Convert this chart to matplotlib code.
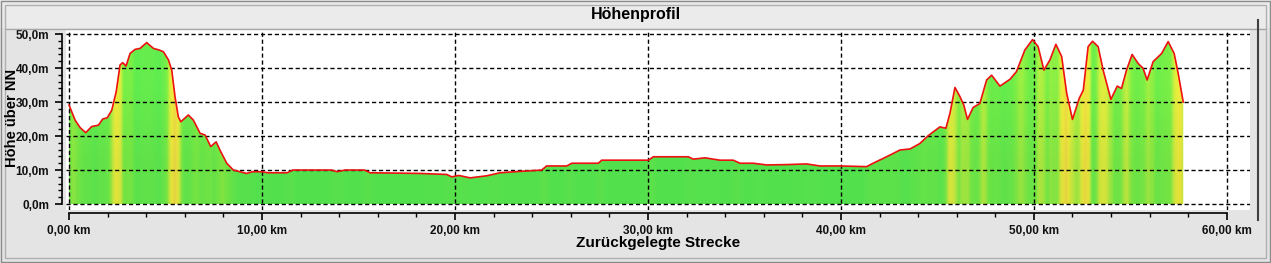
import matplotlib
matplotlib.use("Agg")
import matplotlib.pyplot as plt
import numpy as np
from matplotlib.patches import Rectangle
from matplotlib.colors import LinearSegmentedColormap
from matplotlib.lines import Line2D

plt.rcParams["font.family"] = ["Liberation Sans", "DejaVu Sans"]

# distance in km, height in m
dist_km = [0.0, 0.31, 0.57, 0.86, 1.17, 1.52, 1.74, 1.98, 2.21, 2.44, 2.64, 2.78, 2.95,
           3.16, 3.42, 3.68, 4.02, 4.37, 4.68, 4.89, 5.15, 5.32, 5.49, 5.66, 5.79, 6.18,
           6.44, 6.79, 7.05, 7.34, 7.62, 7.86, 8.17, 8.51, 8.86, 9.2, 9.5, 10.0, 10.3,
           11.3, 11.6, 13.6, 13.9, 14.3, 15.3, 15.6, 18.2, 19.57, 19.83, 20.2, 20.78,
           21.64, 22.33, 23.37, 24.49, 24.75, 25.79, 26.05, 27.43, 27.6, 30.02, 30.28,
           32.09, 32.35, 32.95, 33.73, 34.42, 34.77, 35.46, 36.15, 37.19, 38.22, 38.91,
           39.95, 41.33, 41.67, 42.54, 43.06, 43.58, 44.09, 44.52, 45.13, 45.44, 45.65,
           45.91, 46.17, 46.37, 46.56, 46.85, 47.2, 47.55, 47.81, 48.24, 48.76, 49.1,
           49.53, 49.93, 50.22, 50.52, 50.83, 51.14, 51.44, 51.7, 52.0, 52.35, 52.56,
           52.81, 53.04, 53.33, 53.59, 53.99, 54.32, 54.54, 54.8, 55.09, 55.4, 55.66,
           55.87, 56.18, 56.62, 56.96, 57.27, 57.48, 57.74]
height_m = [29.1, 24.7, 22.5, 21.0, 22.8, 23.2, 25.0, 25.4, 27.6, 33.0, 40.9, 41.6, 40.6,
            44.3, 45.5, 45.8, 47.5, 45.8, 45.3, 44.8, 42.4, 39.4, 31.6, 25.7, 24.2, 26.2,
            24.7, 20.8, 20.3, 16.9, 18.3, 15.4, 12.0, 10.0, 9.5, 9.0, 9.5, 9.5, 9.2,
            9.2, 10.0, 10.0, 9.5, 10.0, 10.0, 9.2, 9.0, 8.7, 8.0, 8.4, 7.7,
            8.3, 9.2, 9.6, 10.0, 11.2, 11.2, 12.0, 12.0, 12.9, 12.9, 13.9,
            13.9, 13.2, 13.6, 12.9, 12.9, 12.0, 12.0, 11.5, 11.6, 11.8, 11.2,
            11.2, 11.0, 12.0, 14.4, 15.9, 16.2, 17.8, 20.1, 22.7, 22.3, 26.7,
            34.3, 31.6, 29.1, 24.9, 28.4, 29.6, 36.5, 37.9, 34.7, 36.7, 39.0,
            45.3, 48.4, 46.3, 39.4, 42.4, 47.0, 43.4, 32.6, 24.9, 31.1, 33.5,
            46.3, 47.9, 46.3, 39.4, 30.8, 34.7, 34.0, 39.4, 44.0, 41.4, 39.9,
            36.5, 41.9, 44.3, 47.8, 44.3, 38.4, 30.0]

x_ticks = [0, 10, 20, 30, 40, 50, 60]
x_labels = ["0,00 km", "10,00 km", "20,00 km", "30,00 km", "40,00 km", "50,00 km", "60,00 km"]
y_ticks = [0, 10, 20, 30, 40, 50]
y_labels = ["0,0m", "10,0m", "20,0m", "30,0m", "40,0m", "50,0m"]

W, H = 1271, 263
fig = plt.figure(figsize=(W / 100, H / 100), dpi=100)
fig.patch.set_facecolor("#e4e4e4")

# frame and title bar
fig.patches.append(Rectangle((0, 1 - 28 / H), 1, 28 / H, transform=fig.transFigure,
                             facecolor="#ebebeb", edgecolor="none", zorder=0))
fig.add_artist(Line2D([0.005, 0.995], [1 - 28.5 / H] * 2, color="#a8a8a8", lw=1))
for inset, col in [(1, "#8c8c8c"), (5, "#b0b0b0")]:
    fig.patches.append(Rectangle((inset / W, inset / H), 1 - 2 * inset / W, 1 - 2 * inset / H,
                                 transform=fig.transFigure, facecolor="none",
                                 edgecolor=col, lw=1, zorder=1))
fig.add_artist(Line2D([1258 / W] * 2, [1 - 20 / H, 1 - 220 / H], color="#404040", lw=1.5))

ax = fig.add_axes([66 / W, 1 - 210 / H, (1250 - 66) / W, (210 - 29) / H])
ax.set_facecolor("white")
ax.set_xlim(-0.16, 61.2)
ax.set_ylim(-1.76, 51.5)

x = np.array(dist_km)
y = np.array(height_m)

# slope colouring of the filled area
xf = np.linspace(x[0], x[-1], 900)
yf = np.interp(xf, x, y)
slope = np.abs(np.gradient(yf, xf))
kern = np.ones(7) / 7
slope = np.convolve(slope, kern, mode="same")
cmap = LinearSegmentedColormap.from_list(
    "slope", ["#58ec52", "#7cf046", "#d6f040", "#f2ee3c", "#f0c850"])
img = cmap(np.clip(slope / 40.0, 0, 1))[np.newaxis, :, :3]
img = np.repeat(img, 2, axis=0)
# slightly darker toward the bottom
shade = np.linspace(0.95, 1.0, 2)[:, None, None]
img = img * shade
poly = ax.fill_between(x, y, 0, facecolor="none", edgecolor="none")
im = ax.imshow(img, extent=(x[0], x[-1], 0, 50), aspect="auto", origin="lower",
               interpolation="bilinear", zorder=1)
im.set_clip_path(poly.get_paths()[0], transform=ax.transData)
ax.plot(x, y, color="#ee1111", lw=1.2, zorder=3)

for gx in x_ticks:
    ax.axvline(gx, color="black", lw=1, ls=(0, (3, 2)), zorder=2)
for gy in y_ticks:
    ax.axhline(gy, color="black", lw=1, ls=(0, (3, 2)), zorder=2)

ax.spines["top"].set_visible(False)
ax.spines["right"].set_visible(False)
ax.spines["left"].set_position(("outward", 3))
ax.spines["bottom"].set_position(("outward", 2))
ax.spines["left"].set_bounds(0, 50)
ax.spines["bottom"].set_bounds(0, 60)
ax.spines["left"].set_linewidth(1.2)
ax.spines["bottom"].set_linewidth(1.2)

ax.set_xticks(x_ticks)
ax.set_xticklabels(x_labels)
ax.set_xticks(np.arange(0, 61, 2), minor=True)
ax.set_yticks(y_ticks)
ax.set_yticklabels(y_labels)
ax.set_yticks(np.arange(0, 51, 2), minor=True)
ax.tick_params(axis="both", which="major", length=5, width=1.2, labelsize=8.5, pad=4)
ax.tick_params(axis="both", which="minor", length=3, width=1)
for lab in ax.get_xticklabels() + ax.get_yticklabels():
    lab.set_fontweight("bold")
    lab.set_color("#111111")

ax.set_xlabel("Zurückgelegte Strecke", fontsize=11, fontweight="bold", labelpad=-1)
fig.text(12 / W, 1 - 118 / H, "Höhe über NN", rotation=90, ha="center", va="center",
         fontsize=10.5, fontweight="bold")
fig.text(0.5, 1 - 15 / H, "Höhenprofil", ha="center", va="center",
         fontsize=11.5, fontweight="bold")

fig.savefig("out.png", dpi=100, facecolor=fig.get_facecolor())
